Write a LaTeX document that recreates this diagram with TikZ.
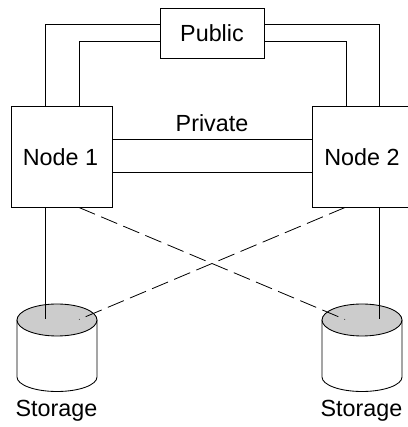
\documentclass[tikz,border=0pt]{standalone}
\usepackage{fontspec}
\setmainfont{Liberation Sans}
\tikzset{
  boxnode/.style={draw,fill=white,inner sep=0pt},
  label/.style={inner sep=0pt,font=\fontsize{17.5}{20}\selectfont},
  wire/.style={line width=0.75pt},
  crosswire/.style={line width=0.6pt,dash pattern=on 13pt off 5pt}
}
% disk with shaded lid, centre of the lid at (#1,#2)
\newcommand{\disk}[2]{
\draw[line width=0.65pt,fill=white] (#1-40,#2) -- (#1-40,#2-57) arc (180:360:40 and 14.5) -- (#1+40,#2);
\draw[line width=0.65pt,fill=gray!40] (#1,#2) ellipse (40 and 16);
}
\begin{document}
\begin{tikzpicture}[line cap=butt,line join=miter,x=0.75pt,y=0.75pt]
\useasboundingbox (0,0) rectangle (407,427);
%lids first, the lines end on them
\disk{57}{107}
\disk{362}{107}

%boxes
\node [boxnode,minimum width=78pt,minimum height=37.5pt] (public) at (212,394) {};
\node [boxnode,minimum width=76pt,minimum height=76pt] (node1) at (61.5,270) {};
\node [boxnode,minimum width=76pt,minimum height=76pt] (node2) at (363,270) {};
\node [label] at (212,393.5) (publictext) {Public};
\node [label] at (60.5,270) (node1text) {Node 1};
\node [label] at (362,270) (node2text) {Node 2};
\node [label] at (212,303.5) (privatetext) {Private};
\node [label] at (56.5,16) (storage1) {Storage};
\node [label] at (361.5,16) (storage2) {Storage};

%public
\coordinate (n1a) at (45,321);
\coordinate (n1b) at (79,321);
\coordinate (n2a) at (379,321);
\coordinate (n2b) at (346,321);
\coordinate (puba) at (160,402);
\coordinate (pubb) at (160,385);
\coordinate (pubc) at (264,402);
\coordinate (pubd) at (264,385);
\draw [wire] (n1a) |- (puba);
\draw [wire] (n1b) |- (pubb);
\draw [wire] (n2a) |- (pubc);
\draw [wire] (n2b) |- (pubd);

%private
\coordinate (n1c) at (112.5,287);
\coordinate (n1d) at (112.5,254);
\coordinate (n2c) at (312,287);
\coordinate (n2d) at (312,254);
\draw [wire] (n1c) -- (n2c);
\draw [wire] (n1d) -- (n2d);

%storage
\coordinate (n1e) at (45,219.5);
\coordinate (n1f) at (79,219.5);
\coordinate (n2e) at (379,219.5);
\coordinate (n2f) at (345,219.5);
\coordinate (s1a) at (45,107.5);
\coordinate (s1b) at (79,107.5);
\coordinate (s2a) at (379,107.5);
\coordinate (s2b) at (345,107.5);
\draw [wire] (n1e) -- (s1a);
\draw [wire] (n2e) -- (s2a);
\draw [crosswire] (n1f) -- (s2b);
\draw [crosswire] (n2f) -- (s1b);
\end{tikzpicture}
\end{document}
